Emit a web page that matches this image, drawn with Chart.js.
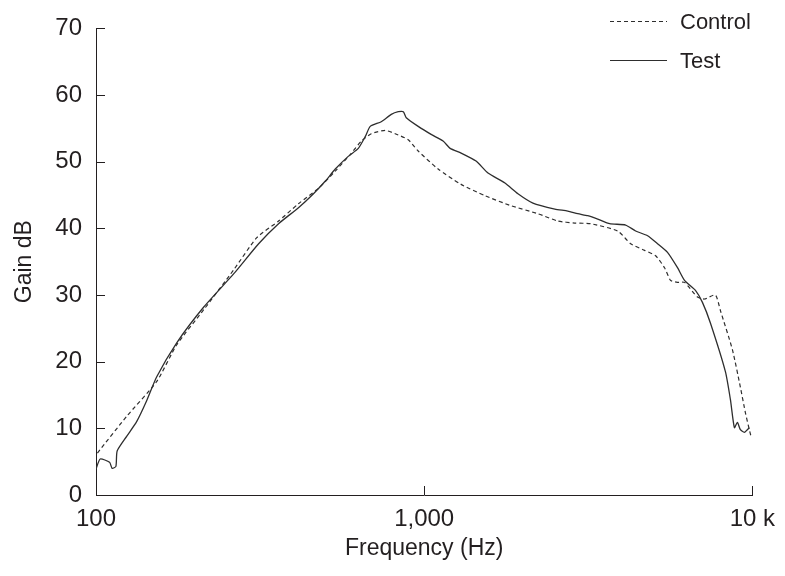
<!DOCTYPE html>
<html>
<head>
<meta charset="utf-8">
<script src="https://cdn.jsdelivr.net/npm/chart.js@4"></script>
<style>
  body { margin: 0; background: #fff; }
  #wrap { width: 785px; height: 576px; position: relative; }
</style>
</head>
<body>
<div id="wrap"><canvas id="chart"></canvas></div>
<script>
const xTickValues = [100, 1000, 10000];
const xTickLabels = ["100", "1,000", "10 k"];

const controlFreq = [101, 124, 153, 176, 213, 263, 309, 360, 414, 476,
  536, 596, 644, 690, 761, 816, 894, 959, 1103, 1296,
  1532, 1839, 2221, 2555, 2877, 3218, 3888, 4259, 4697, 5073,
  5401, 5634, 5916, 6215, 6805, 7147, 7719, 7991, 8696, 9195,
  9521, 9792, 9931];
const controlGain = [6.3, 11.8, 17.0, 22.5, 27.8, 33.8, 38.6, 41.1, 43.7, 46.0,
  48.6, 51.1, 53.1, 54.2, 54.7, 54.2, 53.3, 51.6, 48.9, 46.6,
  44.9, 43.4, 42.2, 41.1, 40.8, 40.7, 39.6, 37.7, 36.7, 35.9,
  34.1, 32.2, 31.9, 31.9, 29.7, 29.4, 30.0, 27.7, 21.8, 16.2,
  12.4, 9.8, 8.6];

const testFreq = [100, 103, 110, 112, 115, 116, 124, 133, 142, 153,
  176, 213, 263, 313, 360, 414, 460, 500, 536, 587,
  630, 662, 685, 740, 794, 834, 864, 882, 959, 1050,
  1142, 1200, 1296, 1439, 1565, 1763, 1931, 2145, 2502, 2740,
  2938, 3151, 3380, 3676, 4111, 4410, 4797, 5144, 5515, 5916,
  6215, 6710, 7047, 7452, 8279, 8576, 8818, 9005, 9195, 9456,
  9656, 9792];
const testGain = [3.9, 5.4, 4.9, 4.0, 4.3, 6.6, 8.8, 11.0, 13.9, 17.7,
  22.8, 28.2, 33.2, 37.7, 40.7, 43.1, 45.2, 47.1, 48.9, 50.8,
  52.0, 53.8, 55.3, 56.0, 57.1, 57.5, 57.5, 56.6, 55.3, 54.1,
  53.1, 52.0, 51.3, 50.1, 48.3, 46.8, 45.2, 43.8, 42.9, 42.6,
  42.2, 41.9, 41.4, 40.7, 40.5, 39.6, 38.9, 37.7, 36.4, 34.1,
  32.2, 30.7, 28.9, 25.8, 18.5, 14.3, 10.1, 10.9, 9.8, 9.4,
  9.8, 10.1];

const ink = "#231f20";
const lineColor = "#2e2e2e";
const fontFamily = "'Liberation Sans', Arial, Helvetica, sans-serif";

function toPoints(xs, ys) {
  return xs.map((x, i) => ({ x: x, y: ys[i] }));
}

// small tick marks pointing into the plot, like the original figure
const innerTicks = {
  id: "innerTicks",
  afterDraw(chart) {
    const { ctx, chartArea, scales } = chart;
    ctx.save();
    ctx.strokeStyle = ink;
    ctx.lineWidth = 1;
    ctx.beginPath();
    scales.y.ticks.forEach(t => {
      const y = Math.round(scales.y.getPixelForValue(t.value)) + 0.5;
      ctx.moveTo(chartArea.left, y);
      ctx.lineTo(chartArea.left + 9, y);
    });
    scales.x.ticks.forEach(t => {
      const x = Math.round(scales.x.getPixelForValue(t.value)) + 0.5;
      ctx.moveTo(x, chartArea.bottom);
      ctx.lineTo(x, chartArea.bottom - 9);
    });
    ctx.stroke();
    ctx.restore();
  }
};

// legend stacked in the top right corner
const cornerLegend = {
  id: "cornerLegend",
  afterDraw(chart) {
    const ctx = chart.ctx;
    ctx.save();
    ctx.font = "22px " + fontFamily;
    ctx.textBaseline = "middle";
    chart.data.datasets.forEach((ds, i) => {
      const y = 21.5 + i * 39;
      ctx.strokeStyle = ds.borderColor;
      ctx.lineWidth = 1;
      ctx.setLineDash(ds.borderDash || []);
      ctx.beginPath();
      ctx.moveTo(610, y);
      ctx.lineTo(667, y);
      ctx.stroke();
      ctx.fillStyle = ink;
      ctx.fillText(ds.label, 680, y + 1);
    });
    ctx.restore();
  }
};

new Chart(document.getElementById("chart"), {
  type: "line",
  data: {
    datasets: [
      {
        label: "Control",
        data: toPoints(controlFreq, controlGain),
        borderColor: lineColor,
        borderWidth: 1.2,
        borderDash: [4, 3],
        pointRadius: 0,
        tension: 0.2
      },
      {
        label: "Test",
        data: toPoints(testFreq, testGain),
        borderColor: lineColor,
        borderWidth: 1.3,
        pointRadius: 0,
        tension: 0.2
      }
    ]
  },
  options: {
    responsive: true,
    maintainAspectRatio: false,
    animation: false,
    layout: { padding: { left: 0, right: 30, top: 26, bottom: 0 } },
    plugins: {
      legend: { display: false },
      tooltip: { enabled: false }
    },
    scales: {
      x: {
        type: "logarithmic",
        min: 100,
        max: 10000,
        afterBuildTicks: scale => {
          scale.ticks = xTickValues.map(v => ({ value: v }));
        },
        afterFit: scale => { scale.height = 81; },
        grid: { display: false, drawTicks: false },
        border: { display: true, color: ink, width: 1 },
        ticks: {
          autoSkip: false,
          maxRotation: 0,
          padding: 10,
          color: ink,
          font: { family: fontFamily, size: 24 },
          callback: value => xTickLabels[xTickValues.indexOf(value)]
        },
        title: {
          display: true,
          text: "Frequency (Hz)",
          color: ink,
          font: { family: fontFamily, size: 23 },
          padding: { top: 0, bottom: 14 }
        }
      },
      y: {
        min: 0,
        max: 70,
        afterFit: scale => { scale.width = 96; },
        grid: { display: false, drawTicks: false },
        border: { display: true, color: ink, width: 1 },
        ticks: {
          stepSize: 10,
          padding: 14,
          color: ink,
          font: { family: fontFamily, size: 24 }
        },
        title: {
          display: true,
          text: "Gain dB",
          color: ink,
          font: { family: fontFamily, size: 23 },
          padding: { top: 11, bottom: 0 }
        }
      }
    }
  },
  plugins: [innerTicks, cornerLegend]
});
</script>
</body>
</html>
